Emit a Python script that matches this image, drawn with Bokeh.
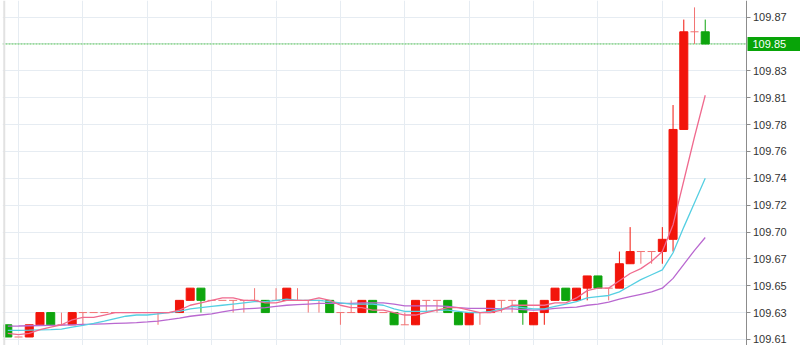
from bokeh.plotting import figure
from bokeh.models import ColumnDataSource, FixedTicker, LinearAxis, Span, Label, Range1d, NumeralTickFormatter
from bokeh.transform import dodge
from bokeh.embed import file_html
from bokeh.resources import INLINE

# ---------------- data ----------------
opens = [109.62, 109.61, 109.61, 109.62, 109.63, 109.62, 109.62, 109.63, 109.63, 109.63,
         109.63, 109.63, 109.63, 109.63, 109.63, 109.63, 109.63, 109.64, 109.65, 109.64,
         109.64, 109.64, 109.64, 109.64, 109.64, 109.64, 109.64, 109.64, 109.64, 109.64,
         109.64, 109.63, 109.63, 109.63, 109.64, 109.63, 109.63, 109.62, 109.62, 109.64,
         109.64, 109.64, 109.63, 109.62, 109.63, 109.63, 109.64, 109.64, 109.64, 109.62,
         109.63, 109.64, 109.65, 109.64, 109.65, 109.66, 109.65, 109.65, 109.67, 109.68,
         109.68, 109.68, 109.69, 109.78, 109.86, 109.86]
highs = [109.62, 109.61, 109.62, 109.63, 109.63, 109.63, 109.63, 109.63, 109.63, 109.63,
         109.63, 109.63, 109.63, 109.63, 109.63, 109.63, 109.64, 109.65, 109.65, 109.64,
         109.64, 109.64, 109.64, 109.65, 109.64, 109.65, 109.65, 109.65, 109.64, 109.64,
         109.64, 109.63, 109.64, 109.64, 109.64, 109.63, 109.63, 109.63, 109.64, 109.64,
         109.64, 109.64, 109.63, 109.63, 109.63, 109.64, 109.64, 109.64, 109.64, 109.63,
         109.64, 109.65, 109.65, 109.65, 109.66, 109.66, 109.65, 109.68, 109.70, 109.68,
         109.68, 109.70, 109.80, 109.87, 109.88, 109.87]
lows = [109.61, 109.61, 109.61, 109.62, 109.62, 109.62, 109.62, 109.62, 109.63, 109.63,
        109.63, 109.63, 109.63, 109.63, 109.62, 109.63, 109.63, 109.64, 109.63, 109.64,
        109.64, 109.63, 109.63, 109.64, 109.63, 109.64, 109.64, 109.64, 109.63, 109.63,
        109.63, 109.62, 109.63, 109.63, 109.63, 109.63, 109.62, 109.62, 109.62, 109.63,
        109.63, 109.63, 109.62, 109.62, 109.62, 109.63, 109.63, 109.63, 109.62, 109.62,
        109.62, 109.64, 109.64, 109.64, 109.64, 109.65, 109.64, 109.65, 109.67, 109.67,
        109.67, 109.67, 109.68, 109.78, 109.85, 109.85]
closes = [109.61, 109.61, 109.62, 109.63, 109.62, 109.62, 109.63, 109.63, 109.63, 109.63,
          109.63, 109.63, 109.63, 109.63, 109.63, 109.63, 109.64, 109.65, 109.64, 109.64,
          109.64, 109.64, 109.64, 109.64, 109.63, 109.64, 109.65, 109.64, 109.64, 109.64,
          109.63, 109.63, 109.63, 109.64, 109.63, 109.63, 109.62, 109.62, 109.64, 109.64,
          109.64, 109.63, 109.62, 109.63, 109.63, 109.64, 109.64, 109.64, 109.63, 109.63,
          109.64, 109.65, 109.64, 109.65, 109.66, 109.65, 109.65, 109.67, 109.68, 109.68,
          109.68, 109.69, 109.78, 109.86, 109.86, 109.85]

ma5 = [109.613, 109.612, 109.613, 109.616, 109.618, 109.620, 109.624, 109.626, 109.626, 109.628,
       109.630, 109.630, 109.630, 109.630, 109.630, 109.630, 109.632, 109.636, 109.638, 109.640,
       109.642, 109.642, 109.640, 109.640, 109.638, 109.638, 109.640, 109.640, 109.640, 109.642,
       109.640, 109.636, 109.634, 109.634, 109.632, 109.632, 109.630, 109.628, 109.628, 109.630,
       109.632, 109.634, 109.634, 109.632, 109.630, 109.630, 109.632, 109.636, 109.636, 109.636,
       109.636, 109.638, 109.638, 109.642, 109.648, 109.650, 109.650, 109.656, 109.662, 109.666,
       109.672, 109.680, 109.702, 109.738, 109.774, 109.808]
ma10 = [109.6154, 109.6155, 109.6156, 109.6158, 109.616, 109.6165, 109.618, 109.6195, 109.6212, 109.623,
        109.625, 109.627, 109.628, 109.628, 109.629, 109.630, 109.631, 109.633, 109.634, 109.635,
        109.636, 109.637, 109.638, 109.639, 109.639, 109.640, 109.641, 109.640, 109.640, 109.640,
        109.639, 109.638, 109.637, 109.637, 109.637, 109.636, 109.633, 109.631, 109.631, 109.631,
        109.632, 109.632, 109.631, 109.630, 109.630, 109.631, 109.633, 109.635, 109.634, 109.633,
        109.633, 109.635, 109.637, 109.639, 109.642, 109.643, 109.644, 109.647, 109.652, 109.657,
        109.661, 109.665, 109.679, 109.700, 109.720, 109.740]
ma20 = [109.6189, 109.619, 109.6192, 109.6194, 109.6195, 109.6197, 109.620, 109.6203, 109.6205, 109.6208,
        109.6211, 109.6214, 109.6217, 109.6223, 109.623, 109.6242, 109.6255, 109.627, 109.628, 109.629,
        109.6305, 109.632, 109.633, 109.6335, 109.634, 109.635, 109.636, 109.6365, 109.637, 109.6375,
        109.6375, 109.6375, 109.6375, 109.638, 109.638, 109.638, 109.637, 109.6355, 109.6355, 109.6355,
        109.6355, 109.635, 109.634, 109.6335, 109.6335, 109.6335, 109.633, 109.633, 109.6325, 109.632,
        109.6325, 109.6335, 109.634, 109.6345, 109.636, 109.637, 109.6385, 109.641, 109.643, 109.645,
        109.647, 109.650, 109.658, 109.6695, 109.681, 109.6915]

y_ticks = [109.608, 109.630, 109.652, 109.674, 109.696, 109.718, 109.740,
           109.762, 109.784, 109.806, 109.828, 109.850, 109.872]
y_tick_labels = ["109.61", "109.63", "109.65", "109.67", "109.70", "109.72", "109.74",
                 "109.76", "109.78", "109.81", "109.83", "109.85", "109.87"]
x_grid_idx = [1, 7, 13, 19, 25, 31, 37, 43, 49, 55, 61]
last_price_label = "109.85"

# ---------------- styling ----------------
UP = "#f2150b"
DOWN = "#0ea50e"
DOJI = "#f27272"
BADGE = "#08a408"
GRID = "#e6ecf2"

n = len(closes)
idx = list(range(n))
up = dict(i=[], o=[], h=[], l=[], c=[], top=[], bot=[])
dn = dict(i=[], o=[], h=[], l=[], c=[], top=[], bot=[])
dj = dict(i=[], o=[], h=[], l=[], c=[], top=[], bot=[])
for k in idx:
    o, h, l, c = opens[k], highs[k], lows[k], closes[k]
    d = up if c > o else (dn if c < o else dj)
    d["i"].append(k); d["o"].append(o); d["h"].append(h); d["l"].append(l); d["c"].append(c)
    d["top"].append(max(o, c)); d["bot"].append(min(o, c))
src_up, src_dn, src_dj = ColumnDataSource(up), ColumnDataSource(dn), ColumnDataSource(dj)

# layout: frame spans the full width; the price axis sits at a fixed x inside it
X0, X1 = -0.494, 73.877
AXIS_X = 68.89
Y0, Y1 = 109.60303, 109.88563
p = figure(width=800, height=345, output_backend="svg", toolbar_location=None,
           x_range=Range1d(X0, X1), y_range=Range1d(Y0, Y1),
           x_axis_location=None, y_axis_location=None,
           min_border_left=2, min_border_right=0, min_border_top=0, min_border_bottom=0)
p.outline_line_color = None
p.background_fill_color = "white"
p.border_fill_color = "white"

p.xgrid.ticker = FixedTicker(ticks=x_grid_idx)
p.ygrid.ticker = FixedTicker(ticks=y_ticks)
for g in (p.xgrid, p.ygrid):
    g.grid_line_color = GRID
    g.grid_line_width = 1
has_cross = "cross_bounds" in p.ygrid.properties()
if has_cross:
    p.ygrid.cross_bounds = (X0, AXIS_X)

yaxis = LinearAxis(ticker=FixedTicker(ticks=[t for t, s in zip(y_ticks, y_tick_labels) if s != last_price_label]),
                   formatter=NumeralTickFormatter(format="0.00"),
                   major_label_overrides={t: s for t, s in zip(y_ticks, y_tick_labels)},
                   fixed_location=AXIS_X)
yaxis.axis_line_color = "#8c8c8c"
yaxis.major_tick_line_color = "#8c8c8c"
yaxis.major_tick_out = 4
yaxis.major_tick_in = 0
yaxis.minor_tick_line_color = None
yaxis.major_label_standoff = 2
yaxis.major_label_text_font = "Liberation Sans"
yaxis.major_label_text_font_size = "11px"
yaxis.major_label_text_color = "#333333"
p.add_layout(yaxis, "right")

if not has_cross:
    # blank the price-scale strip so grid lines stop at the axis
    p.quad(left=[AXIS_X], right=[X1], bottom=[Y0], top=[Y1], fill_color="white", line_color=None)

# left border line
p.add_layout(Span(location=-0.33, dimension="height", line_color="#e2e2e2", line_width=2))

# last price dotted line (stops at the price axis)
p.segment(x0=[X0], x1=[AXIS_X], y0=[closes[-1]], y1=[closes[-1]],
          line_color="#55c555", line_dash="2 1", line_width=1)

# wicks
p.segment(x0="i", x1="i", y0="l", y1="h", source=src_up, line_color=UP, line_width=1)
p.segment(x0="i", x1="i", y0="l", y1="h", source=src_dn, line_color=DOWN, line_width=1)
p.segment(x0="i", x1="i", y0="l", y1="h", source=src_dj, line_color=DOJI, line_width=1)
# bodies
p.vbar(x="i", width=0.75, top="top", bottom="bot", source=src_up, fill_color=UP, line_color=UP)
p.vbar(x="i", width=0.75, top="top", bottom="bot", source=src_dn, fill_color=DOWN, line_color=DOWN)
p.segment(x0=dodge("i", -0.375, range=p.x_range), x1=dodge("i", 0.375, range=p.x_range),
          y0="c", y1="c", source=src_dj, line_color=DOJI, line_width=1)

# moving averages
p.line(idx, ma20, line_color="#b968d0", line_width=1.3)
p.line(idx, ma10, line_color="#55cfe2", line_width=1.3)
p.line(idx, ma5, line_color="#f06a8e", line_width=1.3)

# price badge (padding: left, right, top, bottom)
p.add_layout(Label(x=AXIS_X, y=closes[-1], x_offset=0.5,
                   text=last_price_label, text_font="Liberation Sans", text_font_size="11px",
                   text_color="white", text_baseline="middle", text_align="left",
                   background_fill_color=BADGE, padding=(5, 24, 3, 3)))

open("out.html", "w").write(file_html(p, INLINE))
